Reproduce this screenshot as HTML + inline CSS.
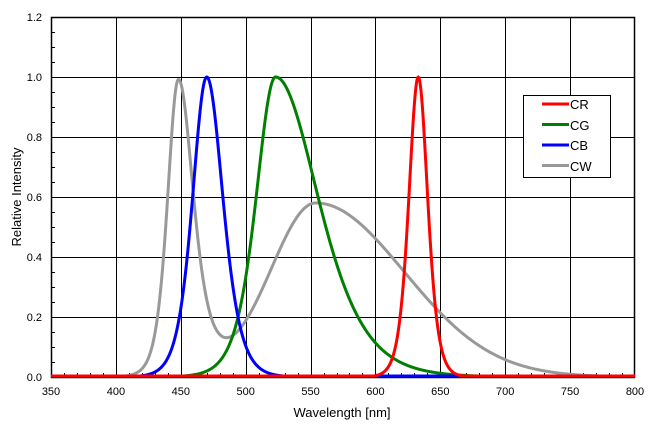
<!DOCTYPE html>
<html><head><meta charset="utf-8"><style>
html,body{margin:0;padding:0;background:#fff;}
svg{display:block;font-family:"Liberation Sans",sans-serif;}
</style></head><body>
<svg id="s" width="649" height="433" viewBox="0 0 649 433" xmlns="http://www.w3.org/2000/svg">
<rect width="649" height="433" fill="#fff"/>
<g id="grid" stroke="#000" stroke-width="1" fill="none"></g>
<g id="labels" font-size="11" fill="#000"></g>
<g id="curves" fill="none" stroke-width="3" stroke-linejoin="round"></g>
<g>
<rect x="523.5" y="95.5" width="87" height="82" fill="#fff" stroke="#000"/>
<line x1="542" y1="104" x2="569" y2="104" stroke="#ff0000" stroke-width="3"/>
<line x1="542" y1="124.5" x2="569" y2="124.5" stroke="#008000" stroke-width="3"/>
<line x1="542" y1="145" x2="569" y2="145" stroke="#0000ff" stroke-width="3"/>
<line x1="542" y1="165.5" x2="569" y2="165.5" stroke="#999" stroke-width="3"/>
<g font-size="13" fill="#000">
<text x="570" y="109">CR</text>
<text x="570" y="130">CG</text>
<text x="570" y="150">CB</text>
<text x="570" y="171">CW</text>
</g>
</g>
<text x="342" y="417" font-size="13" text-anchor="middle">Wavelength [nm]</text>
<text transform="translate(21,197) rotate(-90)" font-size="13" text-anchor="middle">Relative Intensity</text>
</svg>
<script>
var L=51,R=635,T=17,B=377;
function X(nm){return L+(nm-350)*(R-L)/450;}
function Y(v){return B-v*(B-T)/1.2;}
var ns="http://www.w3.org/2000/svg";
var g=document.getElementById('grid'),lb=document.getElementById('labels'),cv=document.getElementById('curves');
function el(p,tag,a,txt){var e=document.createElementNS(ns,tag);for(var k in a)e.setAttribute(k,a[k]);if(txt)e.textContent=txt;p.appendChild(e);return e;}
var d="";
for(var nm=400;nm<800;nm+=50){var x=Math.round(X(nm))+0.5;d+="M"+x+" "+T+"V"+B;}
for(var v=0.2;v<1.19;v+=0.2){var y=Math.round(Y(v))+0.5;d+="M"+L+" "+y+"H"+R;}
for(var nm=360;nm<800;nm+=10){if(nm%50){var x=Math.round(X(nm))+0.5;d+="M"+x+" "+B+"v-4";}}
for(var v=0.05;v<1.2;v+=0.05){if(Math.abs(v*5-Math.round(v*5))>0.01){var y=Math.round(Y(v))+0.5;d+="M"+L+" "+y+"h4";}}
el(g,'path',{d:d});
el(g,'rect',{x:L+0.5,y:T+0.5,width:R-L-1,height:B-T,"stroke-width":1.5});
for(var nm=350;nm<=800;nm+=50)el(lb,'text',{x:X(nm),y:395,"text-anchor":"middle"},String(nm));
for(var i=0;i<=6;i++){var v=i*0.2;el(lb,'text',{x:42,y:Y(v)+4,"text-anchor":"end"},v.toFixed(1));}
function ag(x,m,sl,sr){var s=x<m?sl:sr;return Math.exp(-(x-m)*(x-m)/(2*s*s));}
function sh(x,m,wl,wr){var w=x<m?wl:wr;var c=Math.cosh((x-m)/w);return 1/(c*c);}
var fns=[
 ["#999",function(x){return 0.95*sh(x,448,11,15)+0.05*sh(x,460,20,25)+0.58*ag(x,554,35,68);}],
 ["#008000",function(x){return sh(x,523,20,44);}],
 ["#0000ff",function(x){return sh(x,470,14.6,16.7);}],
 ["#ff0000",function(x){return sh(x,633,9.7,9.7);}]
];
fns.forEach(function(f){var p="";for(var nm=350;nm<=800;nm+=0.5){var v=f[1](nm);p+=(nm==350?"M":"L")+X(nm).toFixed(2)+" "+Math.min(Y(v),B-1).toFixed(2);}el(cv,'path',{d:p,stroke:f[0]});});
</script>
</body></html>
